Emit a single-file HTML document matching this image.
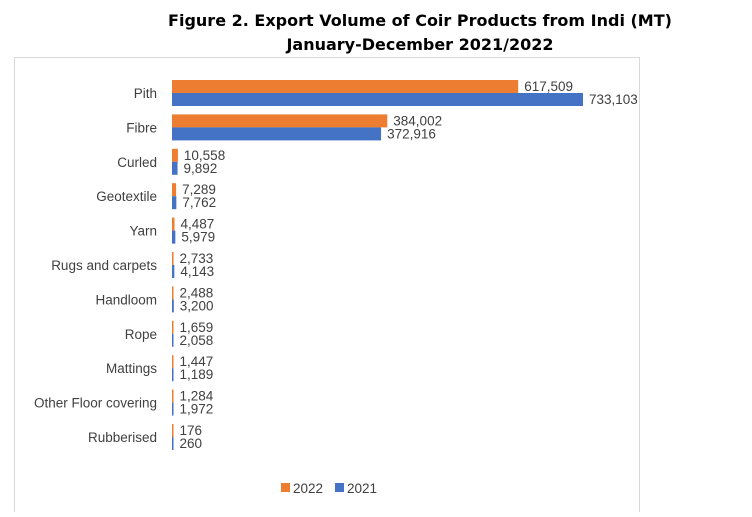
<!DOCTYPE html>
<html><head><style>
body{margin:0;background:#fff;width:752px;height:512px;overflow:hidden}
svg{font-family:"DejaVu Sans","Liberation Sans",sans-serif}
</style></head><body>
<svg width="752" height="512" xmlns="http://www.w3.org/2000/svg">
<rect x="14.5" y="57.5" width="625" height="470" fill="#fff" stroke="#d9d9d9"/>
<text x="420" y="26" text-anchor="middle" font-size="16" font-weight="bold" fill="#000">Figure 2. Export Volume of Coir Products from Indi (MT)</text>
<text x="420" y="50" text-anchor="middle" font-size="16" font-weight="bold" fill="#000">January-December 2021/2022</text>
<g font-size="13.5" fill="#404040" id="g" style="font-family:'Liberation Sans',sans-serif"></g>
<rect x="281" y="483" width="9" height="9" fill="#ed7d31"/>
<text x="293" y="493" font-size="13.5" fill="#404040" style="font-family:'Liberation Sans',sans-serif">2022</text>
<rect x="335" y="483" width="9" height="9" fill="#4472c4"/>
<text x="347" y="493" font-size="13.5" fill="#404040" style="font-family:'Liberation Sans',sans-serif">2021</text>
</svg>
<script>
var d=[["Pith",617509,733103],["Fibre",384002,372916],["Curled",10558,9892],["Geotextile",7289,7762],["Yarn",4487,5979],["Rugs and carpets",2733,4143],["Handloom",2488,3200],["Rope",1659,2058],["Mattings",1447,1189],["Other Floor covering",1284,1972],["Rubberised",176,260]];
var s=411/733103,h='',x0=172;
function f(n){return n.toLocaleString('en-US')}
d.forEach(function(r,i){var c=93+34.4*i;var w1=Math.max(1.5,r[1]*s),w2=Math.max(1.5,r[2]*s);
h+='<text x="157" y="'+(c+5)+'" text-anchor="end">'+r[0]+'</text>';
h+='<rect x="'+x0+'" y="'+(c-13)+'" width="'+w1+'" height="13" fill="#ed7d31"/>';
h+='<rect x="'+x0+'" y="'+c+'" width="'+w2+'" height="13" fill="#4472c4"/>';
h+='<text x="'+(x0+w1+6)+'" y="'+(c-2)+'">'+f(r[1])+'</text>';
h+='<text x="'+(x0+w2+6)+'" y="'+(c+11)+'">'+f(r[2])+'</text>';});
document.getElementById('g').innerHTML=h;
</script>
</body></html>
